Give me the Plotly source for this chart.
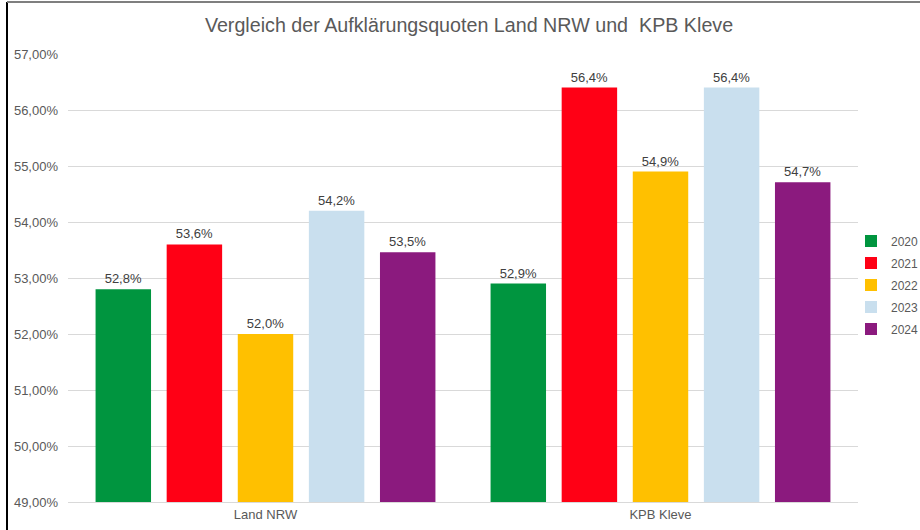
import plotly.graph_objects as go

categories = ["Land NRW", "KPB Kleve"]
years = ["2020", "2021", "2022", "2023", "2024"]
values = {
    "2020": [52.8, 52.9],
    "2021": [53.6, 56.4],
    "2022": [52.0, 54.9],
    "2023": [54.2, 56.4],
    "2024": [53.46, 54.71],
}
colors = {
    "2020": "#00953F",
    "2021": "#FF0015",
    "2022": "#FFC000",
    "2023": "#C9DFEE",
    "2024": "#8B1A7E",
}
y_ticks = [49, 50, 51, 52, 53, 54, 55, 56, 57]
y_ticktext = [f"{v:.2f}%".replace(".", ",") for v in y_ticks]

W, H = 920, 530
L, R, T, B = 68, 62, 54, 28

fig = go.Figure()
for yr in years:
    fig.add_trace(go.Bar(
        name=yr, x=categories, y=values[yr], legendgroup=yr,
        marker=dict(color=colors[yr], line=dict(width=0)),
        texttemplate="%{y:.1f}%", textposition="outside",
        textfont=dict(size=13, color="#404040"),
        cliponaxis=False,
    ))

pw, ph = W - L - R, H - T - B
def px(x):
    return (x - L) / pw
def py(y):
    return (H - B - y) / ph

fig.update_layout(
    width=W, height=H,
    margin=dict(l=L, r=R, t=T, b=B, autoexpand=False),
    paper_bgcolor="white", plot_bgcolor="white",
    separators=",.",
    font=dict(family="Liberation Sans, Arial, sans-serif", size=13, color="#595959"),
    title=dict(text="Vergleich der Aufklärungsquoten Land NRW und\u00a0 KPB Kleve",
               x=469 / W, xanchor="center", y=1 - 25 / H, yanchor="middle",
               font=dict(size=19.7, color="#595959")),
    barmode="group", bargap=0.1, bargroupgap=0.22,
    showlegend=True,
    legend=dict(x=px(851), xanchor="left", y=py(285), yanchor="middle",
                font=dict(size=12, color="#595959"), tracegroupgap=3,
                itemwidth=30, bgcolor="rgba(0,0,0,0)"),
    xaxis=dict(showgrid=False, showline=True, linecolor="#D9D9D9", linewidth=1,
               ticks="", automargin=False, tickfont=dict(size=13, color="#595959")),
    yaxis=dict(range=[49, 57], tickvals=y_ticks, ticktext=y_ticktext, automargin=False,
               showgrid=True, gridcolor="#D9D9D9", gridwidth=1, zeroline=False,
               showline=False, ticks="", ticklabelstandoff=9,
               tickfont=dict(size=13, color="#595959")),
    shapes=[
        dict(type="line", xref="paper", yref="paper", x0=px(7), x1=px(7), y0=py(2), y1=py(H + 5),
             line=dict(color="black", width=2)),
        dict(type="line", xref="paper", yref="paper", x0=px(7), x1=px(W + 5), y0=py(2), y1=py(2),
             line=dict(color="#7F7F7F", width=2)),
    ],
)

fig.write_html("out.html", config={"displayModeBar": False},
               post_script="document.body.style.margin='0px';document.body.style.overflow='hidden';")
